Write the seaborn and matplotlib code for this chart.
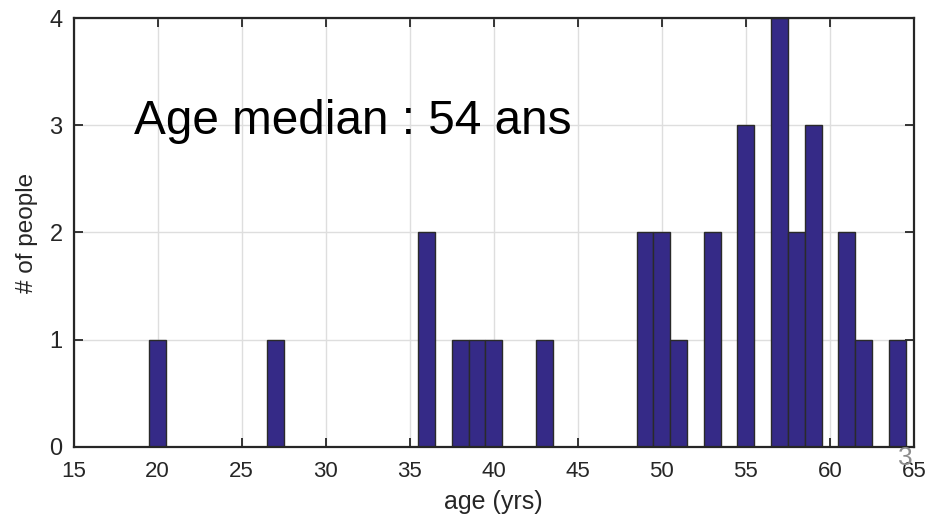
import matplotlib
matplotlib.use("Agg")
import matplotlib.pyplot as plt
import seaborn as sns
import pandas as pd

# Data: age value and number of people with that age
age_values = [20, 27, 36, 38, 39, 40, 43, 49, 50, 51, 53, 55, 57, 58, 59, 61, 62, 64]
age_counts = [1, 1, 2, 1, 1, 1, 1, 2, 2, 1, 2, 3, 4, 2, 3, 2, 1, 1]
x_ticks = [15, 20, 25, 30, 35, 40, 45, 50, 55, 60, 65]
y_ticks = [0, 1, 2, 3, 4]

ages = []
for a, c in zip(age_values, age_counts):
    ages.extend([a] * c)
df = pd.DataFrame({"age": ages})

sns.set_theme(style="whitegrid")
plt.rcParams["font.family"] = ["Liberation Sans", "DejaVu Sans"]

fig = plt.figure(figsize=(9.26, 5.16), dpi=100)
ax = fig.add_axes([0.0795, 0.134, 0.9075, 0.831])

sns.histplot(data=df, x="age", discrete=True, ax=ax,
             color="#352a87", alpha=1.0, edgecolor="#2a2a2a", linewidth=1.0)

ax.set_xlim(15, 65)
ax.set_ylim(0, 4)
ax.set_xticks(x_ticks)
ax.set_yticks(y_ticks)

ax.grid(True, color="#dedede", linewidth=1.0)
ax.set_axisbelow(True)
for s in ax.spines.values():
    s.set_visible(True)
    s.set_color("#262626")
    s.set_linewidth(1.6)

ax.tick_params(axis="both", which="both", direction="in", length=6.5, width=1.3,
               colors="#262626", top=True, right=True,
               bottom=True, left=True, labelcolor="#262626")
ax.tick_params(axis="x", pad=10, labelsize=16)
ax.tick_params(axis="y", pad=8, labelsize=17)

ax.set_xlabel("age (yrs)", fontsize=18, color="#262626", labelpad=6)
ax.set_ylabel("# of people", fontsize=17.5, color="#262626", labelpad=8)

ax.text(18.62, 2.92, "Age median : 54 ans", fontsize=34.4, color="black",
        ha="left", va="baseline")

fig.text(905 / 926, 1 - 458 / 516, "3", fontsize=19, color="#8c8c8c",
         ha="center", va="center")

fig.savefig("out.png", dpi=100)
